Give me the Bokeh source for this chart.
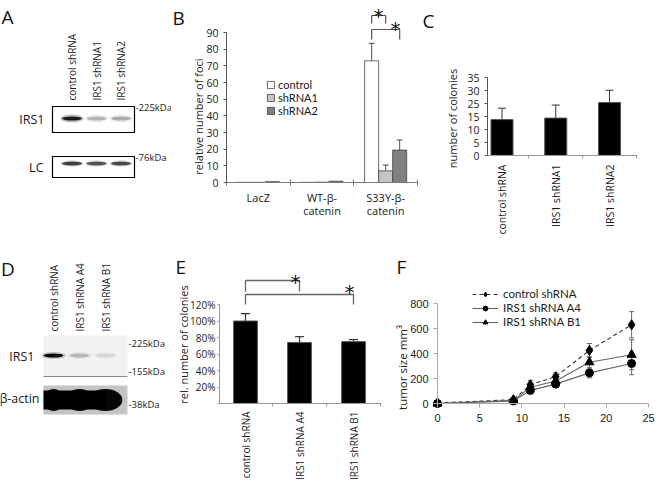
import math
from bokeh.plotting import figure
from bokeh.layouts import column, row
from bokeh.models import (Range1d, FixedTicker, Legend, LegendItem, Whisker, TeeHead,
                          ColumnDataSource)
from bokeh.embed import file_html
from bokeh.resources import INLINE
from bokeh.core.properties import value

FONT = "Open Sans"
TXT = "#1a1a1a"

# ---------------- data ----------------
# A: western blot
a_lanes = ["control shRNA", "IRS1 shRNA1", "IRS1 shRNA2"]
a_irs1_band = [1.0, 0.28, 0.32]
a_lc_band = [0.85, 0.75, 0.8]
a_rows = ["IRS1", "LC"]
a_markers = ["-225kDa", "-76kDa"]

# B: foci
b_groups = ["LacZ", "WT-β-\ncatenin", "S33Y-β-\ncatenin"]
b_series = ["control", "shRNA1", "shRNA2"]
b_control = [0.1, 0.1, 73.0]
b_control_err = [0.0, 0.0, 10.5]
b_shrna1 = [0.1, 0.2, 7.0]
b_shrna1_err = [0.0, 0.0, 3.5]
b_shrna2 = [0.5, 0.8, 19.5]
b_shrna2_err = [0.0, 0.0, 6.0]
b_yticks = [0, 10, 20, 30, 40, 50, 60, 70, 80, 90]

# C: colonies
c_cats = ["control shRNA", "IRS1 shRNA1", "IRS1 shRNA2"]
c_values = [13.8, 14.4, 20.4]
c_err = [4.4, 5.0, 4.7]
c_ytick_pos = [0, 5, 10, 15, 20, 25, 30]
c_ytick_labels = ["0", "5", "10", "15", "25", "30", "35"]

# D: western blot
d_lanes = ["control shRNA", "IRS1 shRNA A4", "IRS1 shRNA B1"]
d_irs1_band = [1.0, 0.22, 0.1]
d_actin_band = [1.0, 1.0, 1.0]
d_rows = ["IRS1", "β-actin"]
d_markers = ["-225kDa", "-155kDa", "-38kDa"]

# E: rel. colonies (%)
e_cats = ["control shRNA", "IRS1 shRNA A4", "IRS1 shRNA B1"]
e_values = [100, 74, 75]
e_err = [9, 7, 2.5]
e_yticks = [0, 20, 40, 60, 80, 100, 120]

# F: tumour growth
f_days = [0, 9, 11, 14, 18, 23]
f_control = [5, 30, 150, 215, 425, 630]
f_control_err = [3, 10, 35, 30, 55, 105]
f_a4 = [0, 20, 105, 155, 245, 320]
f_a4_err = [2, 8, 20, 15, 40, 90]
f_b1 = [0, 25, 130, 180, 330, 390]
f_b1_err = [2, 8, 25, 20, 45, 120]
f_xticks = [0, 5, 10, 15, 20, 25]
f_yticks = [0, 200, 400, 600, 800]

lanes = [0, 1, 2]


# ---------------- helpers ----------------
class Lin:
    """linear map between page pixels and a panel's data units"""
    def __init__(self, v0, p0, v1, p1):
        self.v0, self.p0 = v0, p0
        self.s = (p1 - p0) / (v1 - v0)

    def __call__(self, p):
        return self.v0 + (p - self.p0) / self.s


def canvas(ox, oy, w, h, X, Y, axes=False):
    p = figure(width=w, height=h,
               x_range=Range1d(X(ox), X(ox + w)), y_range=Range1d(Y(oy + h), Y(oy)),
               min_border=0, min_border_left=0, min_border_right=0,
               min_border_top=0, min_border_bottom=0,
               output_backend="svg", toolbar_location=None,
               x_axis_location="below" if axes else None,
               y_axis_location="left" if axes else None)
    try:
        p.frame_align = False
    except Exception:
        pass
    p.grid.visible = False
    p.outline_line_color = None
    p.background_fill_color = "white"
    p.border_fill_color = "white"
    return p


def txt(p, x, y, text, size, angle=0.0, align="left", baseline="middle", font=FONT,
        color=TXT):
    xs = x if isinstance(x, list) else [x]
    ys = y if isinstance(y, list) else [y] * len(xs)
    ts = text if isinstance(text, list) else [text]
    p.text(x=xs, y=ys, text=ts, angle=angle, text_align=align, text_baseline=baseline,
           text_font=value(font), text_font_size=value(size), text_color=color)


def style_axis(ax, size="10px", font=FONT, color="#666666", tick_out=3, standoff=5):
    ax.axis_line_color = color
    ax.major_tick_line_color = color
    ax.minor_tick_line_color = color
    ax.major_label_text_font = font
    ax.major_label_text_font_size = size
    ax.major_label_text_color = TXT
    ax.major_tick_in = 0
    ax.major_tick_out = tick_out
    ax.major_label_standoff = standoff


def letter(p, x, y, t):
    txt(p, x, y, t, "19px", baseline="alphabetic", color="#111111")


def star(p, x, y):
    txt(p, x, y, "*", "20px", align="center", baseline="middle", font="DejaVu Sans",
        color="#111111")


# ---------------- A : blot ----------------
XA = Lin(0, 71.5, 1, 96.0)
YA = Lin(0, 0, -1, 1)
pA = canvas(0, 0, 171, 240, XA, YA)
pA.quad(left=[XA(52)] * 2, right=[XA(134)] * 2, top=[YA(106), YA(156)],
        bottom=[YA(132), YA(177)], fill_color="white", line_color="black", line_width=1.2)
pA.ellipse(x=lanes, y=YA(118), width=0.95, height=8, fill_color="black",
           fill_alpha=[v * 0.25 for v in a_irs1_band], line_color=None)
pA.ellipse(x=lanes, y=YA(118), width=0.8, height=4, fill_color="black",
           fill_alpha=[v * 0.85 for v in a_irs1_band], line_color=None)
pA.ellipse(x=lanes, y=YA(163), width=0.9, height=6, fill_color="black",
           fill_alpha=[v * 0.3 for v in a_lc_band], line_color=None)
pA.ellipse(x=lanes, y=YA(163), width=0.8, height=3.5, fill_color="black",
           fill_alpha=[v * 0.8 for v in a_lc_band], line_color=None)
txt(pA, lanes, YA(100), a_lanes, "10px", angle=math.pi / 2, align="left")
txt(pA, XA(44), YA(119), a_rows[0], "12.5px", align="right")
txt(pA, XA(43), YA(167), a_rows[1], "12.5px", align="right")
txt(pA, XA(135), YA(107), a_markers[0], "9.5px")
txt(pA, XA(135), YA(157), a_markers[1], "9.5px")
letter(pA, XA(1), YA(16), "A")

# ---------------- B : foci ----------------
XB = Lin(0, 226, 3, 417)
YB = Lin(0, 182, 90, 32)
pB = canvas(171, 0, 249, 240, XB, YB, axes=True)
gx = [0.5, 1.5, 2.5]
offsets = [-0.22, 0.0, 0.22]
colors = ["white", "#c4c4c4", "#808080"]
items = []
bar_x = []
for name, vals, errs, col, off in zip(b_series, [b_control, b_shrna1, b_shrna2],
                                      [b_control_err, b_shrna1_err, b_shrna2_err],
                                      colors, offsets):
    xs = [g + off for g in gx]
    bar_x.append(xs)
    r = pB.vbar(x=xs, top=vals, width=0.22, bottom=0, fill_color=col,
                line_color="#444444", line_width=0.8)
    items.append(LegendItem(label=name, renderers=[r]))
    sel = [i for i, e in enumerate(errs) if e > 0]
    src = ColumnDataSource(dict(x=[xs[i] for i in sel],
                                lo=[vals[i] - errs[i] for i in sel],
                                up=[vals[i] + errs[i] for i in sel]))
    pB.add_layout(Whisker(source=src, base="x", lower="lo", upper="up", line_color="#222222",
                          line_width=0.8,
                          upper_head=TeeHead(size=6, line_color="#222222", line_width=0.8),
                          lower_head=TeeHead(size=6, line_color="#222222", line_width=0.8)))
leg = Legend(items=items, location=(95, 123), border_line_color=None, background_fill_alpha=0,
             padding=0, margin=0, spacing=0, glyph_width=9, glyph_height=9, label_height=12,
             label_standoff=3, label_text_font="Lato", label_text_font_size="11px",
             label_text_color=TXT)
pB.add_layout(leg)
c0, c1, c2 = bar_x[0][2], bar_x[1][2], bar_x[2][2]
pB.multi_line(xs=[[c0, c0, c1, c1], [c0, c0, c2, c2]],
              ys=[[YB(23), YB(15), YB(15), YB(23)], [YB(39), YB(29), YB(29), YB(39)]],
              line_color="#555555", line_width=1.2)
star(pB, XB(378), YB(15.4))
star(pB, XB(395), YB(28.4))
yb = pB.yaxis[0]
style_axis(yb, "10.5px", color="#555555")
yb.fixed_location = 0
yb.ticker = FixedTicker(ticks=b_yticks)
yb.bounds = (0, 90)
xb = pB.xaxis[0]
style_axis(xb, "11px", color="#777777", standoff=4)
xb.fixed_location = 0
xb.bounds = (0, 3)
xb.ticker = FixedTicker(ticks=gx, minor_ticks=[0, 1, 2, 3])
xb.major_label_overrides = {g: t for g, t in zip(gx, b_groups)}
xb.major_label_text_line_height = 0.9
xb.major_tick_line_color = None
xb.minor_tick_in = 3
xb.minor_tick_out = 3
txt(pB, XB(198), YB(116), "relative number of foci", "11px", angle=math.pi / 2,
    align="center")
letter(pB, XB(172), YB(17), "B")

# ---------------- C : colonies ----------------
XC = Lin(0, 501.5, 1, 555.25)
YC = Lin(0, 155, 30, 77)
pC = canvas(420, 0, 235, 240, XC, YC, axes=True)
pC.vbar(x=lanes, top=c_values, width=0.41, fill_color="black", line_color="#555555")
srcC = ColumnDataSource(dict(x=lanes, lo=c_values, up=[v + e for v, e in zip(c_values, c_err)]))
pC.add_layout(Whisker(source=srcC, base="x", lower="lo", upper="up", line_color="#333333",
                      lower_head=None, upper_head=TeeHead(size=8, line_color="#333333")))
yc = pC.yaxis[0]
style_axis(yc, "10.5px", color="#555555")
yc.fixed_location = XC(487)
yc.bounds = (0, 30)
yc.ticker = FixedTicker(ticks=c_ytick_pos)
yc.major_label_overrides = {p: t for p, t in zip(c_ytick_pos, c_ytick_labels)}
xc = pC.xaxis[0]
style_axis(xc, "10.5px", color="#999999", standoff=6)
xc.fixed_location = 0
xc.bounds = (XC(487), XC(637))
xc.ticker = FixedTicker(ticks=lanes, minor_ticks=[0.5, 1.5, 2.5])
xc.major_label_overrides = {i: t for i, t in zip(lanes, c_cats)}
xc.major_label_orientation = math.pi / 2
xc.major_tick_line_color = None
xc.minor_tick_in = 0
xc.minor_tick_out = 3
txt(pC, XC(452), YC(118), "number of colonies", "11px", angle=math.pi / 2, align="center")
letter(pC, XC(422), YC(20), "C")

# ---------------- D : blot ----------------
XD = Lin(0, 53, 1, 79)
YD = Lin(0, 0, -1, 1)
pD = canvas(0, 240, 174, 244, XD, YD)
pD.quad(left=[XD(43)], right=[XD(127)], top=[YD(335)], bottom=[YD(376)],
        fill_color="#f2f2f2", line_color=None)
pD.segment(x0=[XD(43)], y0=[YD(376)], x1=[XD(127)], y1=[YD(376)], line_color="#8a8a8a",
           line_width=1.2)
pD.quad(left=[XD(43)], right=[XD(127)], top=[YD(385)], bottom=[YD(414)],
        fill_color="#c4c4c4", line_color=None)
pD.ellipse(x=lanes, y=YD(355), width=0.95, height=7, fill_color="black",
           fill_alpha=[v * 0.2 for v in d_irs1_band], line_color=None)
pD.ellipse(x=lanes, y=YD(355), width=0.76, height=4, fill_color="black",
           fill_alpha=[v * 0.95 for v in d_irs1_band], line_color=None)
pD.quad(left=[XD(43)], right=[2.0], top=[YD(390)], bottom=[YD(409)], fill_color="black",
        line_color=None)
pD.ellipse(x=lanes, y=YD(399.5), width=[0.76, 1.05, 1.3], height=22, fill_color="black",
           fill_alpha=[v * 0.97 for v in d_actin_band], line_color=None)
txt(pD, lanes, YD(331), d_lanes, "10px", angle=math.pi / 2, align="left")
txt(pD, XD(34), YD(356), d_rows[0], "12.5px", align="right")
txt(pD, XD(39), YD(398), d_rows[1], "12.5px", align="right")
for yy, t in zip([343, 371, 404], d_markers):
    txt(pD, XD(128), YD(yy), t, "9.5px")
letter(pD, XD(0.5), YD(268), "D")

# ---------------- E : rel. colonies ----------------
XE = Lin(0, 245, 1, 299)
YE = Lin(0, 403, 120, 304)
pE = canvas(174, 240, 221, 244, XE, YE, axes=True)
pE.vbar(x=lanes, top=e_values, width=0.44, fill_color="black", line_color="#555555")
srcE = ColumnDataSource(dict(x=lanes, lo=e_values, up=[v + e for v, e in zip(e_values, e_err)]))
pE.add_layout(Whisker(source=srcE, base="x", lower="lo", upper="up", line_color="#333333",
                      line_width=1.2, lower_head=None,
                      upper_head=TeeHead(size=9, line_color="#333333", line_width=1.2)))
pE.multi_line(xs=[[0, 0, 1, 1], [0, 0, 2, 2]],
              ys=[[YE(291), YE(280), YE(280), YE(291)], [YE(304), YE(294), YE(294), YE(304)]],
              line_color="#666666", line_width=1.3)
star(pE, XE(295), YE(281.4))
star(pE, XE(349), YE(291.4))
ye = pE.yaxis[0]
style_axis(ye, "10px", color="#999999", tick_out=2, standoff=2)
ye.fixed_location = XE(219)
ye.ticker = FixedTicker(ticks=e_yticks)
ye.bounds = (0, 120)
ye.major_label_overrides = {t: ("" if t == 0 else f"{t}%") for t in e_yticks}
xe = pE.xaxis[0]
style_axis(xe, "10px", color="#999999", standoff=5)
xe.fixed_location = 0
xe.bounds = (XE(219), XE(381))
xe.ticker = FixedTicker(ticks=lanes, minor_ticks=[0.5, 1.5, 2.5])
xe.major_label_overrides = {i: t for i, t in zip(lanes, e_cats)}
xe.major_label_orientation = math.pi / 2
xe.major_tick_line_color = None
xe.minor_tick_in = 0
xe.minor_tick_out = 3
txt(pE, XE(183), YE(344), "rel. number of colonies", "11px", angle=math.pi / 2,
    align="center")
letter(pE, XE(175), YE(266), "E")

# ---------------- F : tumour growth ----------------
XF = Lin(0, 437, 25, 648)
YF = Lin(0, 403, 800, 303)
pF = canvas(395, 240, 260, 244, XF, YF, axes=True)
series_f = [("control shRNA", f_control, f_control_err, "diamond", 10, "4 3", "#333333"),
            ("IRS1 shRNA A4", f_a4, f_a4_err, "circle", 8, "solid", "#666666"),
            ("IRS1 shRNA B1", f_b1, f_b1_err, "triangle", 9, "solid", "#666666")]
items_f = []
for name, vals, errs, mk, sz, dash, lc in series_f:
    src = ColumnDataSource(dict(x=f_days, y=vals,
                                lo=[v - e for v, e in zip(vals, errs)],
                                up=[v + e for v, e in zip(vals, errs)]))
    pF.add_layout(Whisker(source=src, base="x", lower="lo", upper="up", line_color="#666666",
                          upper_head=TeeHead(size=5, line_color="#666666"),
                          lower_head=TeeHead(size=5, line_color="#666666")))
    rl = pF.line("x", "y", source=src, line_color=lc, line_dash=dash, line_width=1.1)
    rm = pF.scatter("x", "y", source=src, marker=mk, size=sz, fill_color="black",
                    line_color="black")
    items_f.append(LegendItem(label=name, renderers=[rl, rm]))
legF = Legend(items=items_f, location=(77, 156), border_line_color=None, background_fill_alpha=0,
              padding=0, margin=0, spacing=1, glyph_width=26, glyph_height=12, label_height=13,
              label_standoff=5, label_text_font="Lato", label_text_font_size="11.5px",
              label_text_color=TXT)
pF.add_layout(legF)
yf = pF.yaxis[0]
style_axis(yf, "11px", font="Liberation Sans", color="#aaaaaa", tick_out=4, standoff=5)
yf.fixed_location = 0
yf.ticker = FixedTicker(ticks=f_yticks)
yf.bounds = (0, 800)
xf = pF.xaxis[0]
style_axis(xf, "11px", font="Liberation Sans", color="#aaaaaa", tick_out=4, standoff=6)
xf.fixed_location = 0
xf.bounds = (0, 25)
xf.ticker = FixedTicker(ticks=f_xticks)
txt(pF, XF(402), YF(367), "tumor size mm³", "11.5px", angle=math.pi / 2, align="center")
letter(pF, XF(396), YF(266), "F")

layout = column(row(pA, pB, pC), row(pD, pE, pF))
open("out.html", "w").write(file_html(layout, INLINE))
